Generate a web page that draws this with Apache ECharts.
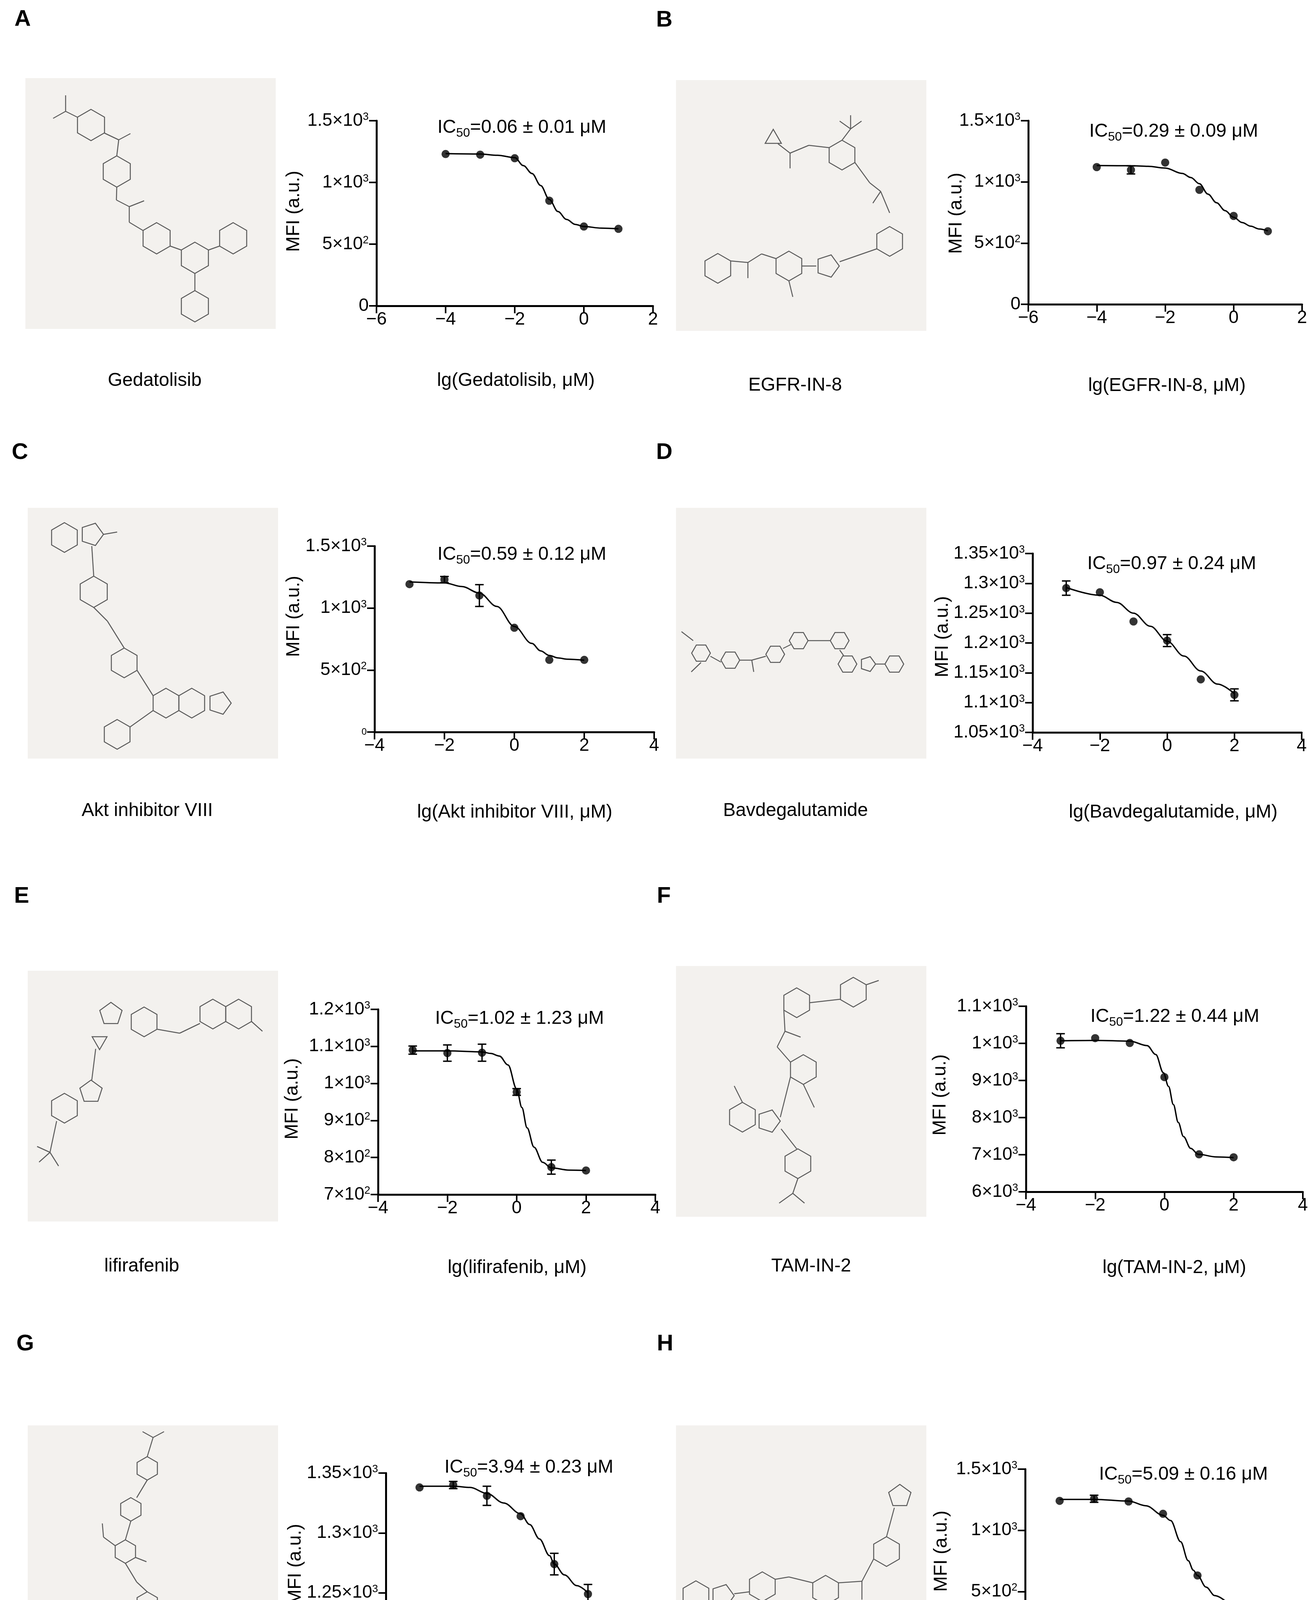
<!DOCTYPE html>
<html>
<head>
<meta charset="utf-8">
<script src="https://cdn.jsdelivr.net/npm/echarts@6/dist/echarts.min.js"></script>
<style>
  html, body { margin: 0; padding: 0; background: #fff; }
  #chart-container { width: 3362px; height: 4471px; }
</style>
</head>
<body>
<div id="chart-container"></div>
<script>
// ---- data ----
var dosesAB = [-4, -3, -2, -1, 0, 1];
var dosesCH = [-3, -2, -1, 0, 1, 2];

var compounds = ['Gedatolisib', 'EGFR-IN-8', 'Akt inhibitor VIII', 'Bavdegalutamide',
                 'lifirafenib', 'TAM-IN-2', 'GSK1904529A', 'IKK 16'];
var ic50Text = ['=0.06 ± 0.01 μM', '=0.29 ± 0.09 μM', '=0.59 ± 0.12 μM', '=0.97 ± 0.24 μM',
                '=1.02 ± 1.23 μM', '=1.22 ± 0.44 μM', '=3.94 ± 0.23 μM', '=5.09 ± 0.16 μM'];
var panelLetters = ['A', 'B', 'C', 'D', 'E', 'F', 'G', 'H'];

// y tick labels ("^" marks the exponent, "_" a small label)
var yLabels1500 = ['0', '5×10^2', '1×10^3', '1.5×10^3'];
var yLabelsAkt = ['_0', '5×10^2', '1×10^3', '1.5×10^3'];
var yLabelsBav = ['1.05×10^3', '1.1×10^3', '1.15×10^3', '1.2×10^3', '1.25×10^3', '1.3×10^3', '1.35×10^3'];
var yLabelsLif = ['7×10^2', '8×10^2', '9×10^2', '1×10^3', '1.1×10^3', '1.2×10^3'];
var yLabelsTam = ['6×10^3', '7×10^3', '8×10^3', '9×10^3', '1×10^3', '1.1×10^3'];
var yLabelsGsk = ['1.2×10^3', '1.25×10^3', '1.3×10^3', '1.35×10^3'];

var gedMean = [1230, 1225, 1196, 852, 643, 624];
var gedErr = [0, 0, 0, 0, 0, 0];
var gedFitX = [-4, -3, -2.5, -2, -1.75, -1.5, -1.25, -1, -0.75, -0.5, -0.25, 0, 0.5, 1];
var gedFitY = [1233, 1230, 1220, 1201, 1136, 1072, 975, 862, 764, 700, 660, 643, 630, 624];

var egfrMean = [1121, 1098, 1158, 935, 722, 597];
var egfrErr = [0, 33, 0, 0, 0, 0];
var egfrFitX = [-4, -3, -2.5, -2, -1.5, -1.25, -1, -0.75, -0.5, -0.25, 0, 0.25, 0.5, 0.75, 1];
var egfrFitY = [1134, 1132, 1127, 1113, 1069, 1036, 985, 900, 830, 765, 711, 668, 638, 615, 600];

var aktMean = [1193, 1230, 1101, 841, 582, 582];
var aktErr = [0, 25, 88, 0, 0, 0];
var aktFitX = [-3, -2, -1.5, -1, -0.5, 0, 0.5, 0.75, 1, 1.25, 1.5, 2];
var aktFitY = [1211, 1203, 1174, 1121, 1013, 852, 715, 655, 618, 598, 588, 579];

var bavMean = [1292, 1285, 1236, 1204, 1139, 1113];
var bavErr = [12, 0, 0, 10, 0, 10];
var bavFitX = [-3, -2, -1.5, -1, -0.5, 0, 0.5, 1, 1.5, 2];
var bavFitY = [1293, 1280, 1268, 1250, 1228, 1203, 1178, 1153, 1131, 1115];

var lifMean = [1090, 1082, 1083, 977, 774, 765];
var lifErr = [11, 22, 23, 9, 19, 0];
var lifFitX = [-3, -2, -1, -0.75, -0.5, -0.25, 0, 0.15, 0.3, 0.5, 0.75, 1, 1.5, 2];
var lifFitY = [1088, 1088, 1085, 1081, 1074, 1050, 985, 935, 880, 828, 787, 772, 766, 765];

var tamMean = [1007, 1014, 1001, 909, 701, 693];
var tamErr = [19, 0, 0, 0, 0, 0];
var tamFitX = [-3, -2, -1, -0.5, -0.25, -0.03, 0.12, 0.26, 0.4, 0.55, 0.76, 0.98, 1.5, 2];
var tamFitY = [1007, 1008, 1006, 994, 970, 921, 884, 835, 787, 749, 717, 701, 694, 692];

var gskMean = [1338, 1340, 1331, 1314, 1274, 1249];
var gskErr = [0, 3, 8, 0, 9, 8];
var gskFitX = [-3, -2, -1.5, -1, -0.5, 0, 0.27, 0.56, 0.86, 1, 1.3, 1.67, 2];
var gskFitY = [1339, 1339, 1338, 1333, 1325, 1316, 1307, 1295, 1281, 1274, 1265, 1256, 1250];

var ikkMean = [1241, 1258, 1236, 1135, 631, 372];
var ikkErr = [0, 29, 0, 0, 0, 0];
var ikkFitX = [-3, -2, -1, -0.5, 0, 0.22, 0.51, 0.73, 0.88, 1, 1.25, 1.5, 2];
var ikkFitY = [1253, 1253, 1239, 1201, 1123, 1080, 907, 752, 674, 631, 536, 467, 375];

// ---- layout ----
var FONT = '"Liberation Sans", Arial, Helvetica, sans-serif';

var panels = [
  { grid: { left: 964, top: 309, width: 708, height: 474 }, x: [-6, 2], y: [0, 1500, 500], labels: yLabels1500,
    doses: dosesAB, mean: gedMean, err: gedErr, fitX: gedFitX, fitY: gedFitY,
    box: [65, 200], letter: [37, 50], name: [396, 975], xt: [1321, 975], yt: [753, 541], ic: [1120, 327] },
  { grid: { left: 2633, top: 309, width: 701, height: 470 }, x: [-6, 2], y: [0, 1500, 500], labels: yLabels1500,
    doses: dosesAB, mean: egfrMean, err: egfrErr, fitX: egfrFitX, fitY: egfrFitY,
    box: [1731, 205], letter: [1680, 52], name: [2036, 987], xt: [2988, 988], yt: [2449, 546], ic: [2789, 337] },
  { grid: { left: 959, top: 1398, width: 716, height: 476 }, x: [-4, 4], y: [0, 1500, 500], labels: yLabelsAkt,
    doses: dosesCH, mean: aktMean, err: aktErr, fitX: aktFitX, fitY: aktFitY,
    box: [71, 1300], letter: [30, 1159], name: [377, 2076], xt: [1318, 2080], yt: [753, 1578], ic: [1120, 1420] },
  { grid: { left: 2644, top: 1417, width: 689, height: 458 }, x: [-4, 4], y: [1050, 1350, 50], labels: yLabelsBav,
    doses: dosesCH, mean: bavMean, err: bavErr, fitX: bavFitX, fitY: bavFitY,
    box: [1731, 1300], letter: [1680, 1159], name: [2037, 2076], xt: [3004, 2080], yt: [2414, 1630], ic: [2784, 1444] },
  { grid: { left: 968, top: 2584, width: 710, height: 474 }, x: [-4, 4], y: [700, 1200, 100], labels: yLabelsLif,
    doses: dosesCH, mean: lifMean, err: lifErr, fitX: lifFitX, fitY: lifFitY,
    box: [71, 2485], letter: [36, 2295], name: [363, 3242], xt: [1324, 3246], yt: [749, 2813], ic: [1114, 2608] },
  { grid: { left: 2627, top: 2576, width: 709, height: 475 }, x: [-4, 4], y: [600, 1100, 100], labels: yLabelsTam,
    doses: dosesCH, mean: tamMean, err: tamErr, fitX: tamFitX, fitY: tamFitY,
    box: [1731, 2473], letter: [1682, 2295], name: [2077, 3242], xt: [3007, 3246], yt: [2408, 2803], ic: [2792, 2603] },
  { grid: { left: 988, top: 3771, width: 690, height: 460 }, x: [-4, 4], y: [1200, 1350, 50], labels: yLabelsGsk,
    doses: dosesCH, mean: gskMean, err: gskErr, fitX: gskFitX, fitY: gskFitY,
    box: [71, 3649], letter: [42, 3441], name: [377, 4432], xt: [1330, 4437], yt: [757, 4005], ic: [1138, 3757] },
  { grid: { left: 2625, top: 3761, width: 706, height: 470 }, x: [-4, 4], y: [0, 1500, 500], labels: yLabels1500,
    doses: dosesCH, mean: ikkMean, err: ikkErr, fitX: ikkFitX, fitY: ikkFitY,
    box: [1731, 3649], letter: [1682, 3441], name: [2037, 4432], xt: [2969, 4348], yt: [2411, 3971], ic: [2814, 3775] }
];

// rough structure sketches in the grey boxes: rings [cx, cy, sides, r, rotDeg], bonds [x1, y1, x2, y2]
var molecules = [
  { rings: [[233, 320, 6, 40, 0], [299, 439, 6, 40, 0], [401, 610, 6, 40, 0], [499, 660, 6, 40, 0], [597, 610, 6, 40, 0], [499, 784, 6, 40, 0]],
    bonds: [[168, 285, 168, 244], [168, 285, 136, 303], [168, 285, 198, 300], [266, 340, 304, 358], [304, 358, 334, 342], [304, 358, 299, 399],
            [299, 479, 298, 512], [298, 512, 331, 529], [331, 529, 369, 514], [331, 529, 331, 569], [331, 569, 366, 590],
            [436, 630, 464, 640], [534, 640, 562, 630], [499, 700, 499, 744]] },
  { rings: [[1980, 355, 3, 24, 0], [2156, 397, 6, 38, 0], [2278, 618, 6, 38, 0], [2119, 681, 5, 30, 90], [2020, 681, 6, 38, 0], [1838, 687, 6, 38, 0]],
    bonds: [[1992, 368, 2023, 392], [2023, 392, 2023, 431], [2023, 392, 2071, 372], [2071, 372, 2123, 378], [2156, 359, 2178, 330], [2178, 330, 2178, 295],
            [2178, 330, 2150, 310], [2178, 330, 2206, 310], [2189, 416, 2227, 468], [2227, 468, 2255, 490], [2255, 490, 2235, 520], [2255, 490, 2278, 545],
            [2245, 637, 2150, 670], [2090, 681, 2053, 681], [2020, 719, 2030, 760], [1987, 662, 1950, 650], [1950, 650, 1915, 672], [1915, 672, 1915, 712], [1915, 672, 1871, 668]] },
  { rings: [[165, 1376, 6, 38, 0], [235, 1368, 5, 30, 90], [240, 1515, 6, 40, 0], [318, 1697, 6, 38, 0], [425, 1800, 6, 38, 0], [491, 1800, 6, 38, 0], [562, 1800, 5, 30, 90], [300, 1880, 6, 38, 0]],
    bonds: [[265, 1368, 300, 1362], [235, 1398, 240, 1475], [240, 1555, 275, 1590], [275, 1590, 318, 1659], [351, 1716, 392, 1781], [392, 1819, 333, 1861]] },
  { rings: [[1795, 1672, 6, 24, 30], [1870, 1690, 6, 24, 30], [1985, 1675, 6, 24, 30], [2045, 1640, 6, 24, 30], [2150, 1640, 6, 24, 30], [2170, 1700, 6, 24, 30], [2222, 1700, 5, 20, 90], [2290, 1700, 6, 24, 30]],
    bonds: [[1745, 1617, 1775, 1640], [1795, 1696, 1770, 1720], [1819, 1680, 1846, 1695], [1894, 1690, 1925, 1690], [1925, 1690, 1930, 1720], [1925, 1690, 1961, 1680],
            [2005, 1660, 2025, 1650], [2069, 1640, 2126, 1640], [2150, 1664, 2160, 1678], [2242, 1700, 2266, 1700]] },
  { rings: [[284, 2596, 5, 30, 0], [369, 2616, 6, 38, 0], [255, 2665, 3, 22, 180], [545, 2596, 6, 38, 0], [611, 2596, 6, 38, 0], [233, 2795, 5, 30, 0], [165, 2837, 6, 38, 0]],
    bonds: [[403, 2635, 460, 2645], [460, 2645, 512, 2620], [644, 2615, 672, 2640], [245, 2685, 235, 2765], [145, 2870, 128, 2950], [128, 2950, 100, 2975], [128, 2950, 150, 2985], [128, 2950, 95, 2935]] },
  { rings: [[2040, 2567, 6, 38, 0], [2185, 2540, 6, 38, 0], [2057, 2738, 6, 38, 0], [1901, 2860, 6, 38, 0], [1968, 2870, 5, 30, 90], [2043, 2979, 6, 38, 0]],
    bonds: [[2073, 2567, 2152, 2558], [2218, 2521, 2250, 2510], [2007, 2586, 2010, 2640], [2010, 2640, 2050, 2655], [2010, 2640, 1990, 2680], [1990, 2680, 2024, 2719],
            [2057, 2776, 2085, 2835], [2024, 2757, 1998, 2860], [1901, 2822, 1880, 2780], [2000, 2890, 2040, 2941], [2043, 3017, 2030, 3055], [2030, 3055, 1995, 3080], [2030, 3055, 2060, 3080]] },
  { rings: [[377, 3759, 6, 30, 0], [335, 3864, 6, 30, 0], [321, 3972, 6, 30, 0], [377, 4105, 6, 30, 0], [255, 4148, 6, 30, 0], [318, 4142, 5, 24, 0], [425, 4156, 6, 30, 0], [383, 4241, 6, 30, 0]],
    bonds: [[392, 3680, 377, 3729], [392, 3680, 420, 3665], [392, 3680, 365, 3665], [377, 3789, 350, 3834], [335, 3894, 321, 3942], [295, 3957, 265, 3935],
            [265, 3935, 262, 3900], [347, 3987, 375, 3998], [321, 4002, 350, 4050], [350, 4050, 377, 4075], [347, 4120, 335, 4130], [448, 4175, 430, 4205], [430, 4205, 400, 4215]] },
  { rings: [[1782, 4085, 6, 38, 0], [1850, 4085, 5, 30, 90], [1952, 4062, 6, 38, 0], [2114, 4071, 6, 38, 0], [2270, 3972, 6, 38, 0], [2304, 3830, 5, 30, 0]],
    bonds: [[1880, 4080, 1919, 4075], [1985, 4043, 2020, 4037], [2020, 4037, 2081, 4052], [2147, 4052, 2207, 4048], [2207, 4048, 2207, 4095], [2207, 4048, 2237, 3991], [2270, 3934, 2290, 3860]] }
];

// ---- build option ----
function supLabel(labels, min, step) {
  return function (v) {
    var s = labels[Math.round((v - min) / step)];
    if (s === undefined) return '';
    if (s.charAt(0) === '_') return '{z|' + s.slice(1) + '}';
    var p = s.split('^');
    return p.length > 1 ? '{b|' + p[0] + '}{p|' + p[1] + '}' : '{b|' + p[0] + '}';
  };
}

function ringPoints(cx, cy, n, r, rot) {
  var pts = [];
  for (var k = 0; k < n; k++) {
    var a = (rot * Math.PI / 180) + k * 2 * Math.PI / n - Math.PI / 2;
    pts.push([cx + r * Math.cos(a), cy + r * Math.sin(a)]);
  }
  return pts;
}

var grids = [], xAxes = [], yAxes = [], series = [], graphics = [];

panels.forEach(function (p, i) {
  grids.push(p.grid);
  xAxes.push({
    gridIndex: i, type: 'value', min: p.x[0], max: p.x[1], interval: 2,
    axisLine: { onZero: false, lineStyle: { color: '#000', width: 5 } },
    axisTick: { length: 19, lineStyle: { color: '#000', width: 4 } },
    splitLine: { show: false },
    axisLabel: {
      color: '#000', fontSize: 46, fontFamily: FONT, margin: 12,
      formatter: function (v) { return String(v).replace('-', '\u2212'); }
    }
  });
  yAxes.push({
    gridIndex: i, type: 'value', min: p.y[0], max: p.y[1], interval: p.y[2],
    axisLine: { show: true, onZero: false, lineStyle: { color: '#000', width: 5 } },
    axisTick: { show: true, length: 19, lineStyle: { color: '#000', width: 4 } },
    splitLine: { show: false },
    axisLabel: {
      margin: 20, formatter: supLabel(p.labels, p.y[0], p.y[2]),
      rich: {
        b: { color: '#000', fontSize: 46, lineHeight: 46, fontFamily: FONT },
        p: { color: '#000', fontSize: 27, lineHeight: 20, verticalAlign: 'top', fontFamily: FONT },
        z: { color: '#000', fontSize: 24, fontFamily: FONT }
      }
    }
  });

  var fit = p.fitX.map(function (x, k) { return [x, p.fitY[k]]; });
  var pts = p.doses.map(function (x, k) { return [x, p.mean[k], p.err[k]]; });

  series.push({
    type: 'line', xAxisIndex: i, yAxisIndex: i, data: fit, symbol: 'none',
    smooth: 0.35, smoothMonotone: 'x', lineStyle: { color: '#000', width: 3.5 }, z: 2
  });
  series.push({
    type: 'custom', xAxisIndex: i, yAxisIndex: i, data: pts, z: 3,
    encode: { x: 0, y: 1 },
    renderItem: function (params, api) {
      var e = api.value(2);
      if (!e) return null;
      var x = api.value(0), m = api.value(1);
      var hi = api.coord([x, m + e]), lo = api.coord([x, m - e]);
      var cap = 11;
      var st = { stroke: '#000', lineWidth: 3.5 };
      return {
        type: 'group', children: [
          { type: 'line', shape: { x1: hi[0], y1: hi[1], x2: lo[0], y2: lo[1] }, style: st },
          { type: 'line', shape: { x1: hi[0] - cap, y1: hi[1], x2: hi[0] + cap, y2: hi[1] }, style: st },
          { type: 'line', shape: { x1: lo[0] - cap, y1: lo[1], x2: lo[0] + cap, y2: lo[1] }, style: st }
        ]
      };
    }
  });
  series.push({
    type: 'scatter', xAxisIndex: i, yAxisIndex: i, data: pts, symbol: 'circle',
    symbolSize: 21, itemStyle: { color: '#000' }, z: 4
  });

  // grey structure box
  graphics.push({ type: 'rect', shape: { x: p.box[0], y: p.box[1], width: 641, height: 642 },
                  style: { fill: '#f3f1ee' }, z: 0 });
  var mol = molecules[i];
  mol.rings.forEach(function (r) {
    graphics.push({ type: 'polygon', shape: { points: ringPoints(r[0], r[1], r[2], r[3], r[4]) },
                    style: { fill: null, stroke: '#5a5a5a', lineWidth: 2.5 }, z: 1 });
  });
  mol.bonds.forEach(function (b) {
    graphics.push({ type: 'line', shape: { x1: b[0], y1: b[1], x2: b[2], y2: b[3] },
                    style: { stroke: '#5a5a5a', lineWidth: 2.5 }, z: 1 });
  });

  // texts
  graphics.push({ type: 'text', x: p.letter[0], y: p.letter[1], z: 5,
    style: { text: panelLetters[i], font: 'bold 58px ' + FONT, fill: '#000', textVerticalAlign: 'middle' } });
  graphics.push({ type: 'text', x: p.name[0], y: p.name[1], z: 5,
    style: { text: compounds[i], font: '48px ' + FONT, fill: '#000', textAlign: 'center', textVerticalAlign: 'middle' } });
  graphics.push({ type: 'text', x: p.xt[0], y: p.xt[1], z: 5,
    style: { text: 'lg(' + compounds[i] + ', μM)', font: '48px ' + FONT, fill: '#000', textAlign: 'center', textVerticalAlign: 'middle' } });
  graphics.push({ type: 'text', x: p.yt[0], y: p.yt[1], rotation: Math.PI / 2, z: 5,
    style: { text: 'MFI (a.u.)', font: '48px ' + FONT, fill: '#000', textAlign: 'center', textVerticalAlign: 'middle' } });
  graphics.push({ type: 'text', x: p.ic[0], y: p.ic[1], z: 5,
    style: {
      text: '{m|IC}{s|50}{m|' + ic50Text[i] + '}', fill: '#000', textVerticalAlign: 'middle',
      rich: {
        m: { fontSize: 48, lineHeight: 60, fontFamily: FONT, fill: '#000' },
        s: { fontSize: 32, lineHeight: 20, verticalAlign: 'bottom', fontFamily: FONT, fill: '#000' }
      }
    } });
});

var dom = document.getElementById('chart-container');
var myChart = echarts.init(dom, null, { renderer: 'canvas' });
myChart.setOption({
  backgroundColor: '#fff',
  animation: false,
  grid: grids,
  xAxis: xAxes,
  yAxis: yAxes,
  series: series,
  graphic: { elements: graphics }
});
</script>
</body>
</html>
